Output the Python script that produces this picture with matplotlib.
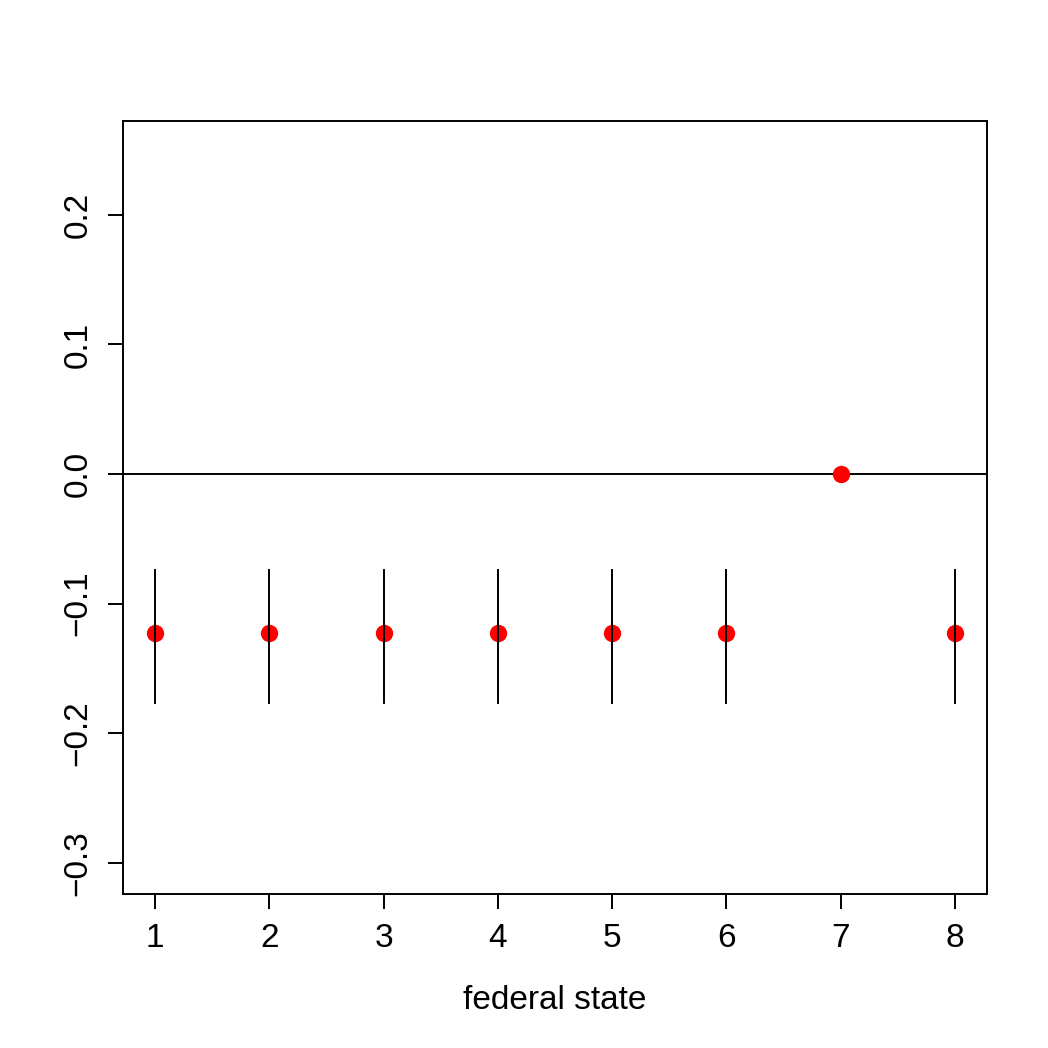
import matplotlib
matplotlib.use("Agg")
import matplotlib.pyplot as plt
import numpy as np

plt.rcParams['font.family'] = ['Liberation Sans', 'DejaVu Sans']

states = [1, 2, 3, 4, 5, 6, 7, 8]
estimate = [-0.1225, -0.1225, -0.1225, -0.1225, -0.1225, -0.1225, 0.0, -0.1225]
lower = [-0.1765, -0.1765, -0.1765, -0.1765, -0.1765, -0.1765, None, -0.1765]
upper = [-0.0740, -0.0740, -0.0740, -0.0740, -0.0740, -0.0740, None, -0.0740]
xticks = [1, 2, 3, 4, 5, 6, 7, 8]
yticks = [-0.3, -0.2, -0.1, 0.0, 0.1, 0.2]
ytick_labels = ["\u22120.3", "\u22120.2", "\u22120.1", "0.0", "0.1", "0.2"]

fig = plt.figure(figsize=(10.48, 10.48), dpi=100)
ax = fig.add_axes([123/1048, 1 - 894/1048, (987-123)/1048, (894-121)/1048])

ax.axhline(0, color='black', lw=1.4, zorder=1)
ax.plot(states, estimate, 'o', color='red', markersize=12.5, markeredgewidth=0, zorder=2)
for s, lo, hi in zip(states, lower, upper):
    if lo is not None:
        ax.plot([s, s], [lo, hi], color='black', lw=1.4, zorder=3)

ax.set_xlim(0.72, 8.28)
ax.set_ylim(-0.324, 0.2724)
ax.set_xticks(xticks)
ax.set_xticklabels([str(x) for x in xticks])
ax.set_yticks(yticks)
ax.set_yticklabels(ytick_labels, rotation=90, va='center')
ax.tick_params(axis='both', length=11, width=1.4, labelsize=24)
ax.tick_params(axis='x', pad=10)
ax.tick_params(axis='y', pad=10)
for sp in ax.spines.values():
    sp.set_linewidth(1.4)
ax.set_xlabel("federal state", fontsize=24, labelpad=22)

fig.savefig("out.png", dpi=100)
